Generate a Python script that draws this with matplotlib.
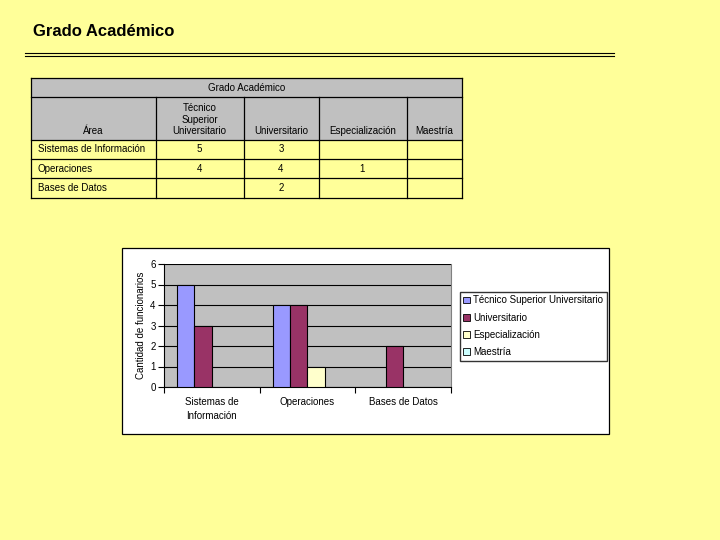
import matplotlib.pyplot as plt
import numpy as np
from matplotlib.patches import Patch, Rectangle

# --- data ---
areas = ["Sistemas de Información", "Operaciones", "Bases de Datos"]
area_ticks = ["Sistemas de\nInformación", "Operaciones", "Bases de Datos"]
grados = ["Técnico Superior Universitario", "Universitario", "Especialización", "Maestría"]
grado_headers = ["Técnico\nSuperior\nUniversitario", "Universitario", "Especialización", "Maestría"]
tecnico = [5, 4, np.nan]
universitario = [3, 4, 2]
especializacion = [np.nan, 1, np.nan]
maestria = [np.nan, np.nan, np.nan]
colors = ["#9999FF", "#993366", "#FFFFCC", "#CCFFFF"]

series = [tecnico, universitario, especializacion, maestria]

plt.rcParams["font.family"] = ["Liberation Sans", "DejaVu Sans"]
plt.rcParams["font.size"] = 7

BG = "#FFFF99"
GRAY = "#C0C0C0"

fig = plt.figure(figsize=(7.2, 5.4), dpi=100, facecolor=BG)

# pixel-coordinate overlay for title, table and chart frame
bg = fig.add_axes([0, 0, 1, 1])
bg.set_xlim(0, 720)
bg.set_ylim(540, 0)
bg.axis("off")

bg.text(33, 31, "Grado Académico", fontsize=12, fontweight="bold", va="center", ha="left")
bg.plot([25, 614], [53.3, 53.3], color="black", lw=0.8)
bg.plot([25, 614], [55.5, 55.5], color="black", lw=0.8)

# table
col_x = [31, 155.5, 243.5, 318.5, 406.5, 461.5]
row_y = [77.5, 97, 139.5, 158.5, 177.5, 197.5]
lw = 0.9
bg.add_patch(Rectangle((col_x[0], row_y[0]), col_x[-1] - col_x[0], row_y[2] - row_y[0],
                       facecolor=GRAY, edgecolor="none"))
for y in row_y:
    bg.plot([col_x[0], col_x[-1]], [y, y], color="black", lw=lw)
for i, x in enumerate(col_x):
    top = row_y[0] if i in (0, len(col_x) - 1) else row_y[1]
    bg.plot([x, x], [top, row_y[-1]], color="black", lw=lw)

bg.text((col_x[0] + col_x[-1]) / 2, (row_y[0] + row_y[1]) / 2 + 1, "Grado Académico",
        ha="center", va="center")
bg.text((col_x[0] + col_x[1]) / 2, row_y[2] - 3, "Área", ha="center", va="bottom")
for j, h in enumerate(grado_headers):
    bg.text((col_x[j + 1] + col_x[j + 2]) / 2, row_y[2] - 3, h, ha="center", va="bottom",
            multialignment="center", linespacing=1.2)
for i, a in enumerate(areas):
    yc = (row_y[i + 2] + row_y[i + 3]) / 2 + 0.5
    bg.text(col_x[0] + 7, yc, a, ha="left", va="center")
    for j, s in enumerate(series):
        v = s[i]
        if not np.isnan(v):
            bg.text((col_x[j + 1] + col_x[j + 2]) / 2, yc, str(int(v)), ha="center", va="center")

# chart frame
bg.add_patch(Rectangle((121.5, 247.5), 609 - 121.5, 434 - 247.5,
                       facecolor="white", edgecolor="black", lw=0.9))

# chart
W, H = 720, 540
left, right, top, bottom = 164, 451, 264, 387
ax = fig.add_axes([left / W, 1 - bottom / H, (right - left) / W, (bottom - top) / H])
ax.set_facecolor(GRAY)

x = np.arange(len(areas))
width = 1 / 5.5
for k, (s, c) in enumerate(zip(series, colors)):
    vals = np.array(s, dtype=float)
    mask = ~np.isnan(vals)
    ax.bar(x[mask] + (k - 1.5) * width, vals[mask], width, color=c,
           edgecolor="black", linewidth=0.8, zorder=3)

ax.set_xlim(-0.5, len(areas) - 0.5)
ax.set_ylim(0, 6)
ax.set_yticks(range(0, 7))
ax.yaxis.grid(True, color="black", lw=0.8, zorder=1)
ax.set_axisbelow(True)
ax.set_xticks(x)
ax.set_xticklabels(area_ticks, linespacing=1.45)
ax.set_xticks(np.arange(len(areas) + 1) - 0.5, minor=True)
ax.tick_params(axis="x", which="major", length=0, pad=7.5)
ax.tick_params(axis="x", which="minor", length=4, direction="out", width=0.8)
ax.tick_params(axis="y", length=4, direction="out", width=0.8, pad=2)
ax.spines["top"].set_visible(False)
ax.spines["right"].set_color("#808080")
for sp in ("left", "bottom"):
    ax.spines[sp].set_linewidth(0.8)
ax.set_ylabel("Cantidad de funcionarios", labelpad=3)

handles = [Patch(facecolor=c, edgecolor="black", linewidth=0.6) for c in colors]
fig.legend(handles, grados, loc="upper left", bbox_to_anchor=(460 / W, 1 - 292 / H),
           borderaxespad=0, frameon=True, fancybox=False, edgecolor="black",
           handlelength=0.7, handleheight=0.7, handletextpad=0.3, labelspacing=0.75,
           borderpad=0.35, fontsize=7)

fig.savefig("out.png", dpi=100, facecolor=BG)
